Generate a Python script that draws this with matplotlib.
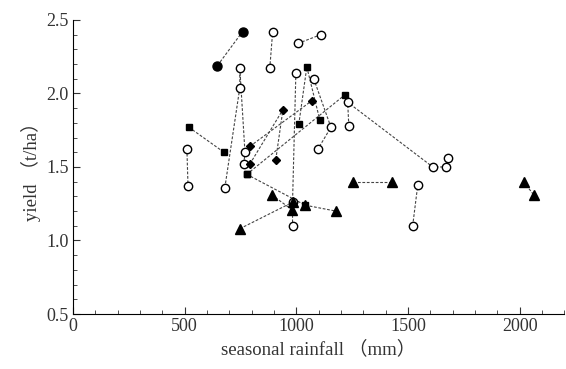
import matplotlib
matplotlib.use('Agg')
import matplotlib.pyplot as plt
from matplotlib.ticker import MultipleLocator

plt.rcParams['font.family'] = ['Liberation Serif', 'Noto Sans CJK SC']

# each group: (x values, y values), joined by a dashed line
filled_circle_groups = [
    ([647, 759], [2.19, 2.42]),
]
open_circle_groups = [
    ([510, 515], [1.62, 1.37]),
    ([680, 747, 747, 770, 765], [1.36, 2.04, 2.17, 1.60, 1.52]),
    ([881, 894], [2.17, 2.42]),
    ([1007, 1110], [2.34, 2.40]),
    ([998, 983, 983], [2.14, 1.26, 1.10]),
    ([1078, 1155, 1096], [2.10, 1.77, 1.62]),
    ([1235, 1230, 1611, 1669, 1678], [1.78, 1.94, 1.50, 1.50, 1.56]),
    ([1521, 1544], [1.10, 1.38]),
]
square_groups = [
    ([519, 676], [1.77, 1.60]),
    ([778, 1217], [1.45, 1.99]),
    ([1011, 1047, 1105], [1.79, 2.18, 1.82]),
    ([778, 1040], [1.45, 1.24]),
]
diamond_groups = [
    ([792, 1069], [1.64, 1.95]),
    ([792, 940, 908], [1.52, 1.89, 1.55]),
]
triangle_groups = [
    ([747, 983], [1.08, 1.26]),
    ([890, 980], [1.31, 1.21]),
    ([1040, 1177], [1.24, 1.20]),
    ([1253, 1427], [1.40, 1.40]),
    ([2018, 2063], [1.40, 1.31]),
]

fig = plt.figure(figsize=(5.66, 3.69), dpi=100)
ax = fig.add_axes([0.129, 0.149, 0.868, 0.797])

line_kw = dict(color='#444444', linestyle=(0, (2.5, 1.5)), linewidth=0.8, zorder=1)

def draw(groups, marker, size, face):
    for xs, ys in groups:
        ax.plot(xs, ys, **line_kw)
        ax.plot(xs, ys, linestyle='none', marker=marker, markersize=size,
                markerfacecolor=face, markeredgecolor='black',
                markeredgewidth=1.0, zorder=3)

draw(filled_circle_groups, 'o', 6.5, 'black')
draw(open_circle_groups, 'o', 6, 'white')
draw(square_groups, 's', 5, 'black')
draw(diamond_groups, 'D', 4, 'black')
draw(triangle_groups, '^', 7, 'black')

ax.set_xlim(0, 2200)
ax.set_ylim(0.5, 2.5)
ax.xaxis.set_major_locator(MultipleLocator(500))
ax.xaxis.set_minor_locator(MultipleLocator(100))
ax.yaxis.set_major_locator(MultipleLocator(0.5))
ax.yaxis.set_minor_locator(MultipleLocator(0.1))
ax.yaxis.set_major_formatter(matplotlib.ticker.FormatStrFormatter('%.1f'))
ax.tick_params(which='both', direction='in', labelsize=13, colors='#333333', pad=3)
ax.tick_params(which='major', length=5)
ax.tick_params(which='minor', length=3)
ax.spines['top'].set_visible(False)
ax.spines['right'].set_visible(False)
ax.set_xlabel('seasonal rainfall （mm）', fontsize=13.5, color='#333333', labelpad=4)
ax.set_ylabel('yield （t/ha）', fontsize=13.5, color='#333333', labelpad=4)

fig.savefig('out.png', dpi=100)
